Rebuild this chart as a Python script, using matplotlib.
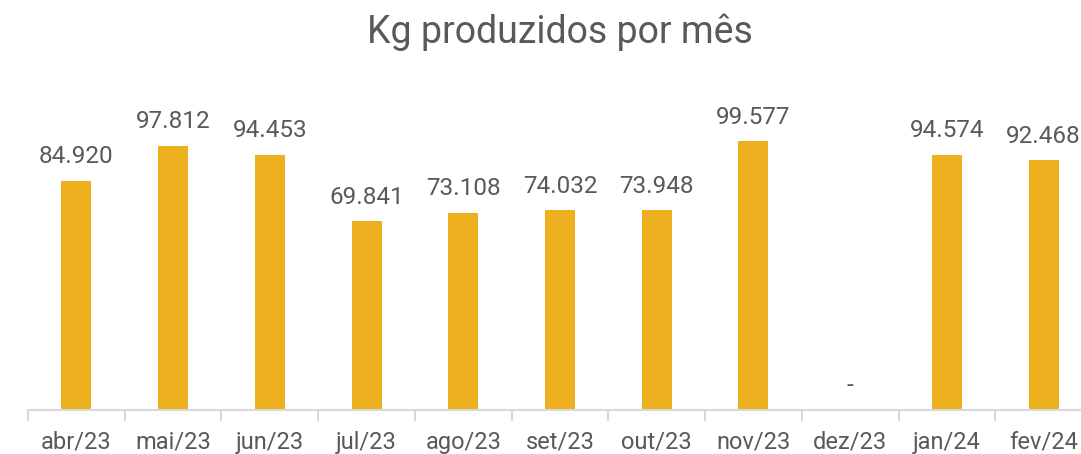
import matplotlib.pyplot as plt
from matplotlib.ticker import FixedLocator

plt.rcParams['font.family'] = ['Roboto', 'DejaVu Sans']

# dados
meses = ['abr/23', 'mai/23', 'jun/23', 'jul/23', 'ago/23', 'set/23',
         'out/23', 'nov/23', 'dez/23', 'jan/24', 'fev/24']
kg = [84920, 97812, 94453, 69841, 73108, 74032, 73948, 99577, 0, 94574, 92468]

cor_barra = '#EDB11F'
cor_texto = '#595959'
cor_eixo = '#D9D9D9'

fig = plt.figure(figsize=(10.81, 4.54), dpi=100)
# eixo mais largo que a figura (o original está cortado à direita)
ax = fig.add_axes([28 / 1081, 44 / 454, 1064 / 1081, 310 / 454])

x = list(range(len(meses)))
ax.bar(x, kg, width=0.31, color=cor_barra)

ax.set_xlim(-0.5, len(meses) - 0.5)
ax.set_ylim(0, 114800)

# rótulos de valor com separador de milhar em ponto
for xi, v in zip(x, kg):
    txt = f"{v:,}".replace(',', '.') if v else '-'
    ax.annotate(txt, (xi, v), xytext=(0, 9), textcoords='offset points',
                ha='center', va='bottom', fontsize=17.5, color=cor_texto)

ax.set_xticks(x)
ax.set_xticklabels(meses, fontsize=17, color=cor_texto)
ax.tick_params(axis='x', which='major', length=0, pad=15)
ax.xaxis.set_minor_locator(FixedLocator([i - 0.5 for i in range(len(meses) + 1)]))
ax.tick_params(axis='x', which='minor', length=8, width=1.5, color=cor_eixo)

ax.set_yticks([])
for s in ['top', 'right', 'left']:
    ax.spines[s].set_visible(False)
ax.spines['bottom'].set_color(cor_eixo)
ax.spines['bottom'].set_linewidth(1.5)

ax.set_title('Kg produzidos por mês', fontsize=27, color=cor_texto, y=1.0, pad=41)

fig.savefig('out.png', dpi=100)
